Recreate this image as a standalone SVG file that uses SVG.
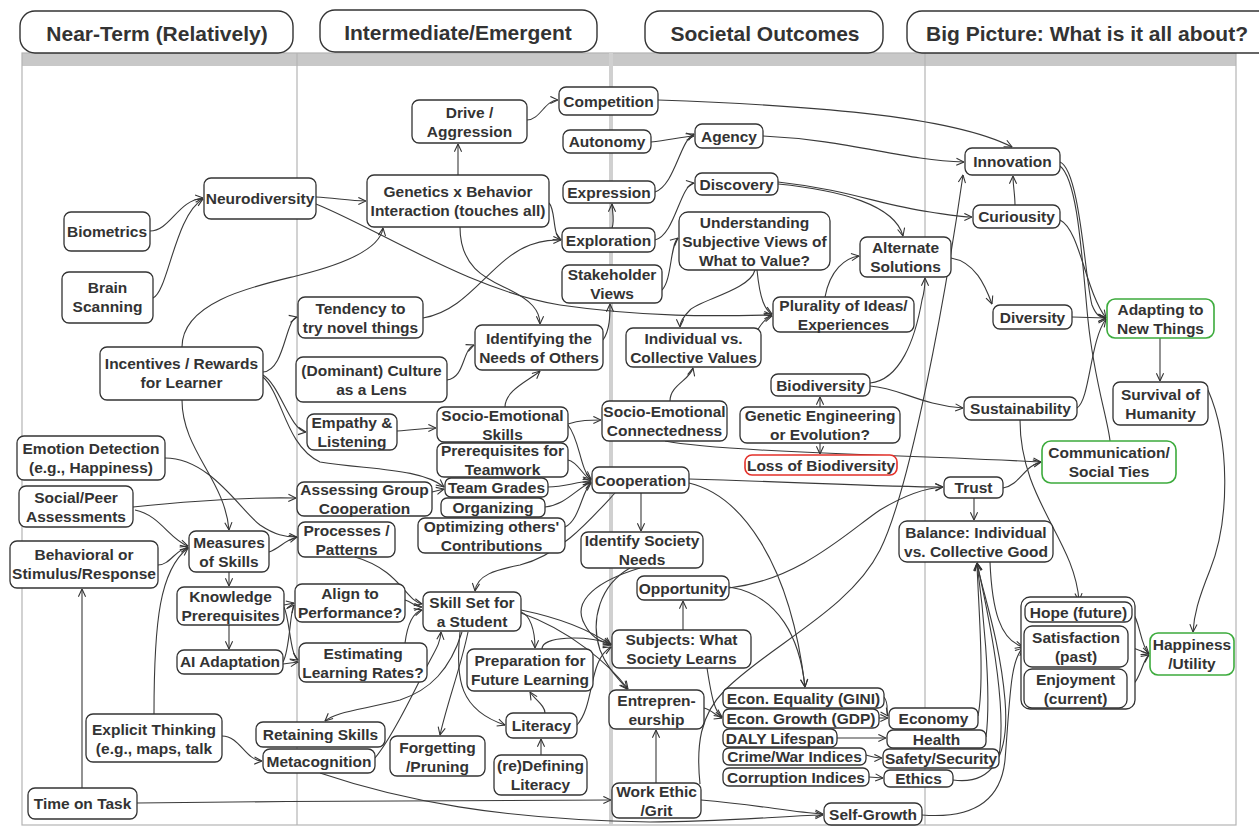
<svg xmlns="http://www.w3.org/2000/svg" width="1259" height="827" viewBox="0 0 1259 827">
<defs>
  <marker id="a" viewBox="0 0 10 10" refX="9.5" refY="5" markerWidth="9" markerHeight="9" markerUnits="userSpaceOnUse" orient="auto">
    <path d="M1,1 L9.5,5 L1,9" fill="none" stroke="#333" stroke-width="1.2"/>
  </marker>
  <style>
    .n rect{fill:#fff;stroke:#333;stroke-width:1.3}
    .n.g rect{stroke:#3cab3c;stroke-width:1.6}
    .n.r rect{stroke:#e4302a;stroke-width:1.6}
    text{font-family:"Liberation Sans",Arial,sans-serif;font-weight:bold;font-size:15.5px;fill:#333;text-anchor:middle}
    .hd rect{fill:#fff;stroke:#333;stroke-width:1.4}
    .hd text{font-size:21px}
    .e path{fill:none;stroke:#3a3a3a;stroke-width:1.1;marker-end:url(#a)}
    .e path.nm{marker-end:none}
    .lane{fill:none;stroke:#b4b4b4;stroke-width:1.2}
  </style>
</defs>
<rect width="1259" height="827" fill="#fff"/>

<!-- swimlanes -->
<g id="lanes">
  <rect x="22" y="53" width="1214" height="13" fill="#c8c8c8"/>
  <rect class="lane" x="22" y="53" width="1214" height="772"/>
  <line class="lane" x1="297" y1="53" x2="297" y2="825"/>
  <line x1="611" y1="53" x2="611" y2="825" stroke="#d0d0d0" stroke-width="4"/>
  <line class="lane" x1="925" y1="53" x2="925" y2="825"/>
</g>

<!-- column headers -->
<g id="hdr-near" class="hd"><rect x="20" y="11" width="273" height="42" rx="15"/><text x="157" y="41">Near-Term (Relatively)</text></g>
<g id="hdr-intermediate" class="hd"><rect x="320" y="10" width="277" height="42" rx="15"/><text x="458" y="40">Intermediate/Emergent</text></g>
<g id="hdr-societal" class="hd"><rect x="645" y="11" width="238" height="42" rx="15"/><text x="765" y="41">Societal Outcomes</text></g>
<g id="hdr-big" class="hd"><rect x="907" y="11" width="370" height="42" rx="15"/><text x="1087" y="41">Big Picture: What is it all about?</text></g>

<!-- connectors -->
<g id="edges" class="e">
  <path d="M150,231 C170,231 178,200 203,198"/>
  <path d="M153,298 C168,292 175,215 203,199"/>
  <path d="M316,197 C335,198 350,201 366,201"/>
  <path d="M316,204 C380,230 470,290 560,305 C650,318 720,316 772,315"/>
  <path d="M182,347 C182,300 260,285 300,275 C340,265 380,250 383,228"/>
  <path d="M263,372 C285,370 285,320 297,317"/>
  <path d="M263,375 C280,385 290,430 306,432"/>
  <path d="M263,377 C283,395 285,445 320,462 C370,470 420,468 444,487"/>
  <path d="M182,400 C182,450 225,480 229,530"/>
  <path d="M165,458 C210,458 240,510 260,525 C275,535 285,537 297,537"/>
  <path d="M133,507 C200,500 250,497 296,498"/>
  <path d="M135,510 C160,515 170,540 188,546"/>
  <path d="M158,565 C170,565 175,550 188,547"/>
  <path d="M154,714 C154,620 160,570 188,548"/>
  <path d="M269,552 C280,548 285,540 297,537"/>
  <path d="M229,572 L229,586"/>
  <path d="M229,625 L229,649"/>
  <path d="M284,605 L294,603"/>
  <path d="M284,607 C290,620 290,655 298,660"/>
  <path d="M283,662 C290,650 290,610 294,605"/>
  <path d="M283,664 L298,662"/>
  <path d="M82,788 L82,589"/>
  <path d="M137,803 C300,801 500,800 611,800"/>
  <path d="M222,736 C240,736 245,760 262,761"/>
  <path d="M320,773 C400,800 500,820 650,822 C720,822 780,816 823,815"/>
  <path d="M375,758 C390,740 410,700 425,670 C435,650 440,645 441,632"/>
  <path d="M462,632 C450,670 430,690 400,700 C360,710 335,712 325,721"/>
  <path d="M468,632 C460,670 448,700 440,735"/>
  <path d="M460,632 C455,680 460,710 505,725"/>
  <path d="M521,612 C530,615 535,630 535,648"/>
  <path d="M521,610 C560,618 590,630 611,645"/>
  <path d="M521,613 C570,630 610,665 628,689"/>
  <path d="M545,713 C545,705 535,700 530,692"/>
  <path d="M541,755 L541,739"/>
  <path d="M577,725 C595,705 588,660 611,647"/>
  <path d="M542,649 C542,636 585,635 611,644"/>
  <path d="M355,557 C400,570 405,600 422,604"/>
  <path d="M405,600 C412,602 415,607 422,607"/>
  <path d="M405,643 C408,620 415,612 422,610"/>
  <path d="M568,425 C580,440 580,470 591,479"/>
  <path d="M568,460 C578,462 582,475 591,480"/>
  <path d="M548,487 C565,487 575,482 591,481"/>
  <path d="M545,507 C565,505 575,490 591,482"/>
  <path d="M565,527 C580,520 582,490 591,483"/>
  <path d="M432,492 L444,489"/>
  <path d="M615,493 C590,520 560,555 520,565 C495,570 477,575 475,591"/>
  <path d="M641,493 L641,531"/>
  <path d="M689,479 C800,482 880,487 943,487"/>
  <path d="M689,483 C740,495 790,560 805,687"/>
  <path d="M729,587 C780,595 800,640 805,687"/>
  <path d="M729,588 C800,580 850,530 880,510 C905,495 925,488 943,487"/>
  <path d="M683,630 L683,601"/>
  <path d="M640,568 C600,580 570,600 585,625 C590,635 600,642 611,645"/>
  <path d="M630,568 C600,585 590,620 600,650 C608,670 620,680 627,689"/>
  <path d="M707,668 C712,700 715,712 722,717"/>
  <path d="M704,708 C712,710 716,716 722,718"/>
  <path d="M656,783 L656,730"/>
  <path d="M701,800 C760,805 790,812 823,814"/>
  <path d="M700,784 C696,745 700,715 725,690 C770,645 850,610 880,550 C910,490 945,300 963,175"/>
  <path d="M884,697 C890,705 885,712 888,716"/>
  <path d="M879,718 L888,718"/>
  <path d="M837,738 L886,738"/>
  <path d="M866,755 C872,757 876,758 882,758"/>
  <path d="M869,777 L883,778"/>
  <path d="M978,716 C985,680 978,600 977,563"/>
  <path d="M986,737 C992,690 982,600 977,563"/>
  <path d="M999,756 C1008,700 985,600 977,563"/>
  <path d="M953,780 C990,785 1010,760 1005,700 C1000,640 982,590 977,563"/>
  <path d="M990,562 C992,610 1000,640 1023,647"/>
  <path d="M922,815 C960,818 1000,810 1005,760 C1010,700 1010,660 1023,648"/>
  <path d="M1020,420 C1020,500 1075,540 1079,601"/>
  <path d="M1132,612 C1140,620 1140,645 1149,654"/>
  <path d="M1128,646 L1149,654"/>
  <path d="M1127,688 C1140,685 1142,660 1149,655"/>
  <path d="M1208,390 C1230,440 1230,520 1210,570 C1198,600 1194,615 1193,632"/>
  <path d="M1160,338 L1160,381"/>
  <path d="M1072,317 L1106,318"/>
  <path d="M1060,162 C1080,170 1085,280 1092,305 C1096,315 1100,318 1106,318"/>
  <path d="M1060,220 C1080,230 1085,290 1106,318"/>
  <path d="M1077,408 C1090,400 1090,340 1106,319"/>
  <path class="nm" d="M1060,166 C1078,180 1082,260 1088,320 C1094,380 1108,420 1110,441"/>
  <path d="M951,258 C975,262 985,285 992,304"/>
  <path d="M1015,205 C1015,195 1013,185 1013,176"/>
  <path d="M658,100 C800,105 950,115 1012,147"/>
  <path d="M763,136 C850,140 900,160 964,162"/>
  <path d="M778,182 C850,190 880,205 930,212 C950,215 960,217 972,217"/>
  <path d="M778,184 C840,190 895,205 903,236"/>
  <path d="M651,142 C670,140 680,137 694,136"/>
  <path d="M655,192 C675,185 680,140 694,134"/>
  <path d="M527,120 C540,120 545,100 558,100"/>
  <path d="M458,175 L458,144"/>
  <path d="M549,203 C556,210 552,235 561,240"/>
  <path d="M460,227 C460,270 490,280 510,290 C530,300 540,310 540,324"/>
  <path d="M423,318 C470,310 490,260 530,245 C545,240 552,240 561,240"/>
  <path d="M612,228 C615,220 612,210 612,204"/>
  <path d="M655,240 C675,235 680,185 694,183"/>
  <path d="M662,290 C672,280 670,245 678,238"/>
  <path d="M603,340 C610,330 610,315 610,304"/>
  <path d="M447,380 C465,378 462,350 474,345"/>
  <path d="M505,407 C505,390 530,380 540,371"/>
  <path d="M397,431 C415,430 425,428 436,428"/>
  <path d="M568,424 C580,420 590,420 601,420"/>
  <path d="M670,401 C670,385 690,380 693,368"/>
  <path d="M665,441 C700,448 780,452 900,456 C960,458 1000,460 1041,462"/>
  <path d="M755,270 C750,290 700,300 690,310 C683,317 680,322 680,327"/>
  <path d="M757,270 C760,300 765,310 772,314"/>
  <path d="M755,335 C760,325 765,318 772,316"/>
  <path d="M825,297 C830,270 845,258 859,256"/>
  <path d="M870,383 C900,380 915,340 922,300 C925,290 925,282 925,278"/>
  <path d="M870,386 C900,388 920,405 963,408"/>
  <path d="M820,407 L820,397"/>
  <path d="M820,443 L820,454"/>
  <path d="M1003,488 C1020,485 1025,465 1041,462"/>
  <path d="M974,498 L974,520"/>
</g>

<!-- Near-Term nodes -->
<g id="n-biometrics" class="n"><rect x="64" y="212" width="86" height="39" rx="7"/><text x="107" y="237">Biometrics</text></g>
<g id="n-brain-scanning" class="n"><rect x="62" y="272" width="91" height="51" rx="7"/><text><tspan x="107.5" y="293">Brain</tspan><tspan x="107.5" y="312">Scanning</tspan></text></g>
<g id="n-neurodiversity" class="n"><rect x="204" y="178" width="112" height="41" rx="7"/><text x="260" y="204">Neurodiversity</text></g>
<g id="n-incentives" class="n"><rect x="100" y="347" width="163" height="53" rx="7"/><text><tspan x="181.5" y="369">Incentives / Rewards</tspan><tspan x="181.5" y="388">for Learner</tspan></text></g>
<g id="n-emotion" class="n"><rect x="17" y="436" width="148" height="44" rx="7"/><text><tspan x="91" y="454">Emotion Detection</tspan><tspan x="91" y="473">(e.g., Happiness)</tspan></text></g>
<g id="n-social-peer" class="n"><rect x="19" y="486" width="114" height="41" rx="7"/><text><tspan x="76" y="503">Social/Peer</tspan><tspan x="76" y="522">Assessments</tspan></text></g>
<g id="n-behavioral" class="n"><rect x="10" y="541" width="148" height="47" rx="7"/><text><tspan x="84" y="560">Behavioral or</tspan><tspan x="84" y="579">Stimulus/Response</tspan></text></g>
<g id="n-measures" class="n"><rect x="189" y="531" width="80" height="41" rx="7"/><text><tspan x="229" y="548">Measures</tspan><tspan x="229" y="567">of Skills</tspan></text></g>
<g id="n-knowledge" class="n"><rect x="177" y="587" width="107" height="38" rx="7"/><text><tspan x="230.5" y="602">Knowledge</tspan><tspan x="230.5" y="621">Prerequisites</tspan></text></g>
<g id="n-ai-adaptation" class="n"><rect x="177" y="650" width="106" height="24" rx="7"/><text x="230" y="667">AI Adaptation</text></g>
<g id="n-explicit" class="n"><rect x="86" y="714" width="136" height="48" rx="7"/><text><tspan x="154" y="735">Explicit Thinking</tspan><tspan x="154" y="754">(e.g., maps, talk</tspan></text></g>
<g id="n-time-on-task" class="n"><rect x="28" y="788" width="109" height="31" rx="7"/><text x="82.5" y="809">Time on Task</text></g>

<!-- Intermediate nodes -->
<g id="n-drive" class="n"><rect x="412" y="100" width="115" height="43" rx="7"/><text><tspan x="469.5" y="117.5">Drive /</tspan><tspan x="469.5" y="136.5">Aggression</tspan></text></g>
<g id="n-genetics" class="n"><rect x="367" y="175" width="182" height="52" rx="7"/><text><tspan x="458" y="197">Genetics x Behavior</tspan><tspan x="458" y="216">Interaction (touches all)</tspan></text></g>
<g id="n-tendency" class="n"><rect x="298" y="297" width="125" height="41" rx="7"/><text><tspan x="360.5" y="313.5">Tendency to</tspan><tspan x="360.5" y="332.5">try novel things</tspan></text></g>
<g id="n-culture" class="n"><rect x="296" y="357" width="151" height="45" rx="7"/><text><tspan x="371.5" y="375.5">(Dominant) Culture</tspan><tspan x="371.5" y="394.5">as a Lens</tspan></text></g>
<g id="n-identifying" class="n"><rect x="475" y="325" width="128" height="45" rx="7"/><text><tspan x="539" y="343.5">Identifying the</tspan><tspan x="539" y="362.5">Needs of Others</tspan></text></g>
<g id="n-empathy" class="n"><rect x="307" y="414" width="90" height="36" rx="7"/><text><tspan x="352" y="428">Empathy &amp;</tspan><tspan x="352" y="447">Listening</tspan></text></g>
<g id="n-se-skills" class="n"><rect x="437" y="407" width="131" height="35" rx="7"/><text><tspan x="502.5" y="420.5">Socio-Emotional</tspan><tspan x="502.5" y="439.5">Skills</tspan></text></g>
<g id="n-prereq-teamwork" class="n"><rect x="437" y="443" width="131" height="34" rx="7"/><text><tspan x="502.5" y="456">Prerequisites for</tspan><tspan x="502.5" y="475">Teamwork</tspan></text></g>
<g id="n-assessing" class="n"><rect x="297" y="482" width="135" height="34" rx="7"/><text><tspan x="364.5" y="495">Assessing Group</tspan><tspan x="364.5" y="514">Cooperation</tspan></text></g>
<g id="n-team-grades" class="n"><rect x="445" y="478" width="103" height="19" rx="6"/><text x="496.5" y="493">Team Grades</text></g>
<g id="n-organizing" class="n"><rect x="441" y="498" width="104" height="19" rx="6"/><text x="493" y="513">Organizing</text></g>
<g id="n-optimizing" class="n"><rect x="418" y="518" width="147" height="35" rx="7"/><text><tspan x="491.5" y="531.5">Optimizing others'</tspan><tspan x="491.5" y="550.5">Contributions</tspan></text></g>
<g id="n-processes" class="n"><rect x="298" y="522" width="97" height="35" rx="7"/><text><tspan x="346.5" y="535.5">Processes /</tspan><tspan x="346.5" y="554.5">Patterns</tspan></text></g>
<g id="n-align" class="n"><rect x="295" y="584" width="110" height="38" rx="7"/><text><tspan x="350" y="599">Align to</tspan><tspan x="350" y="618">Performance?</tspan></text></g>
<g id="n-estimating" class="n"><rect x="299" y="643" width="128" height="39" rx="7"/><text><tspan x="363" y="658.5">Estimating</tspan><tspan x="363" y="677.5">Learning Rates?</tspan></text></g>
<g id="n-skill-set" class="n"><rect x="423" y="592" width="98" height="39" rx="7"/><text><tspan x="472" y="607.5">Skill Set for</tspan><tspan x="472" y="626.5">a Student</tspan></text></g>
<g id="n-preparation" class="n"><rect x="467" y="649" width="126" height="42" rx="7"/><text><tspan x="530" y="666">Preparation for</tspan><tspan x="530" y="685">Future Learning</tspan></text></g>
<g id="n-literacy" class="n"><rect x="506" y="713" width="71" height="25" rx="7"/><text x="541.5" y="731">Literacy</text></g>
<g id="n-redefining" class="n"><rect x="494" y="755" width="93" height="40" rx="7"/><text><tspan x="540.5" y="771">(re)Defining</tspan><tspan x="540.5" y="790">Literacy</tspan></text></g>
<g id="n-forgetting" class="n"><rect x="390" y="736" width="95" height="40" rx="7"/><text><tspan x="437.5" y="752.5">Forgetting</tspan><tspan x="437.5" y="771.5">/Pruning</tspan></text></g>
<g id="n-retaining" class="n"><rect x="256" y="722" width="129" height="25" rx="7"/><text x="320.5" y="740">Retaining Skills</text></g>
<g id="n-metacognition" class="n"><rect x="263" y="749" width="112" height="24" rx="7"/><text x="319" y="766.5">Metacognition</text></g>

<!-- Societal outcome nodes -->
<g id="n-competition" class="n"><rect x="559" y="87" width="99" height="28" rx="7"/><text x="608.5" y="106.5">Competition</text></g>
<g id="n-autonomy" class="n"><rect x="563" y="130" width="88" height="23" rx="7"/><text x="607" y="147">Autonomy</text></g>
<g id="n-agency" class="n"><rect x="695" y="124" width="68" height="24" rx="7"/><text x="729" y="141.5">Agency</text></g>
<g id="n-expression" class="n"><rect x="563" y="181" width="92" height="22" rx="7"/><text x="609" y="197.5">Expression</text></g>
<g id="n-discovery" class="n"><rect x="695" y="173" width="83" height="22" rx="7"/><text x="736.5" y="189.5">Discovery</text></g>
<g id="n-exploration" class="n"><rect x="562" y="228" width="93" height="24" rx="7"/><text x="608.5" y="245.5">Exploration</text></g>
<g id="n-understanding" class="n"><rect x="679" y="212" width="151" height="58" rx="9"/><text><tspan x="754.5" y="228">Understanding</tspan><tspan x="754.5" y="247">Subjective Views of</tspan><tspan x="754.5" y="266">What to Value?</tspan></text></g>
<g id="n-stakeholder" class="n"><rect x="562" y="265" width="100" height="38" rx="7"/><text><tspan x="612" y="280">Stakeholder</tspan><tspan x="612" y="299">Views</tspan></text></g>
<g id="n-alternate" class="n"><rect x="860" y="237" width="91" height="40" rx="7"/><text><tspan x="905.5" y="253">Alternate</tspan><tspan x="905.5" y="272">Solutions</tspan></text></g>
<g id="n-plurality" class="n"><rect x="773" y="297" width="141" height="35" rx="7"/><text><tspan x="843.5" y="310.5">Plurality of Ideas/</tspan><tspan x="843.5" y="329.5">Experiences</tspan></text></g>
<g id="n-individual" class="n"><rect x="626" y="328" width="135" height="39" rx="7"/><text><tspan x="693.5" y="343.5">Individual vs.</tspan><tspan x="693.5" y="362.5">Collective Values</tspan></text></g>
<g id="n-biodiversity" class="n"><rect x="771" y="374" width="99" height="22" rx="7"/><text x="820.5" y="390.5">Biodiversity</text></g>
<g id="n-genetic-eng" class="n"><rect x="740" y="407" width="160" height="36" rx="7"/><text><tspan x="820" y="421">Genetic Engineering</tspan><tspan x="820" y="440">or Evolution?</tspan></text></g>
<g id="n-loss-biodiversity" class="n r"><rect x="745" y="455" width="152" height="20" rx="7"/><text x="821" y="470.5">Loss of Biodiversity</text></g>
<g id="n-se-connected" class="n"><rect x="602" y="401" width="125" height="40" rx="7"/><text><tspan x="664.5" y="417">Socio-Emotional</tspan><tspan x="664.5" y="436">Connectedness</tspan></text></g>
<g id="n-cooperation" class="n"><rect x="592" y="467" width="97" height="26" rx="7"/><text x="640.5" y="485.5">Cooperation</text></g>
<g id="n-identify-needs" class="n"><rect x="581" y="532" width="122" height="36" rx="7"/><text><tspan x="642" y="546">Identify Society</tspan><tspan x="642" y="565">Needs</tspan></text></g>
<g id="n-opportunity" class="n"><rect x="637" y="576" width="92" height="24" rx="7"/><text x="683" y="593.5">Opportunity</text></g>
<g id="n-subjects" class="n"><rect x="612" y="630" width="139" height="38" rx="7"/><text><tspan x="681.5" y="645">Subjects: What</tspan><tspan x="681.5" y="664">Society Learns</tspan></text></g>
<g id="n-entrepreneurship" class="n"><rect x="609" y="690" width="95" height="39" rx="7"/><text><tspan x="656.5" y="705.5">Entrepren-</tspan><tspan x="656.5" y="724.5">eurship</tspan></text></g>
<g id="n-work-ethic" class="n"><rect x="612" y="783" width="89" height="35" rx="7"/><text><tspan x="656.5" y="796.5">Work Ethic</tspan><tspan x="656.5" y="815.5">/Grit</tspan></text></g>
<g id="n-gini" class="n"><rect x="723" y="688" width="161" height="20" rx="6"/><text x="803.5" y="703.5">Econ. Equality (GINI)</text></g>
<g id="n-gdp" class="n"><rect x="723" y="709" width="156" height="19" rx="6"/><text x="801" y="724">Econ. Growth (GDP)</text></g>
<g id="n-daly" class="n"><rect x="723" y="729" width="114" height="18" rx="6"/><text x="780" y="743.5">DALY Lifespan</text></g>
<g id="n-crime" class="n"><rect x="723" y="748" width="143" height="17" rx="6"/><text x="794.5" y="762">Crime/War Indices</text></g>
<g id="n-corruption" class="n"><rect x="723" y="768" width="146" height="18" rx="6"/><text x="796" y="782.5">Corruption Indices</text></g>
<g id="n-economy" class="n"><rect x="889" y="708" width="89" height="21" rx="6"/><text x="933.5" y="724">Economy</text></g>
<g id="n-health" class="n"><rect x="887" y="730" width="99" height="18" rx="6"/><text x="936.5" y="744.5">Health</text></g>
<g id="n-safety" class="n"><rect x="883" y="749" width="116" height="19" rx="6"/><text x="941" y="764">Safety/Security</text></g>
<g id="n-ethics" class="n"><rect x="884" y="770" width="69" height="17" rx="6"/><text x="918.5" y="784">Ethics</text></g>
<g id="n-self-growth" class="n"><rect x="824" y="803" width="98" height="22" rx="7"/><text x="873" y="819.5">Self-Growth</text></g>

<!-- Big picture nodes -->
<g id="n-innovation" class="n"><rect x="965" y="148" width="95" height="27" rx="7"/><text x="1012.5" y="167">Innovation</text></g>
<g id="n-curiousity" class="n"><rect x="973" y="205" width="87" height="23" rx="7"/><text x="1016.5" y="222">Curiousity</text></g>
<g id="n-diversity" class="n"><rect x="993" y="305" width="79" height="24" rx="7"/><text x="1032.5" y="322.5">Diversity</text></g>
<g id="n-adapting" class="n g"><rect x="1107" y="299" width="107" height="39" rx="8"/><text><tspan x="1160.5" y="314.5">Adapting to</tspan><tspan x="1160.5" y="333.5">New Things</tspan></text></g>
<g id="n-survival" class="n"><rect x="1113" y="382" width="95" height="43" rx="7"/><text><tspan x="1160.5" y="399.5">Survival of</tspan><tspan x="1160.5" y="418.5">Humanity</tspan></text></g>
<g id="n-sustainability" class="n"><rect x="964" y="397" width="113" height="23" rx="7"/><text x="1020.5" y="414">Sustainability</text></g>
<g id="n-communication" class="n g"><rect x="1042" y="441" width="134" height="42" rx="9"/><text><tspan x="1109" y="458">Communication/</tspan><tspan x="1109" y="477">Social Ties</tspan></text></g>
<g id="n-trust" class="n"><rect x="944" y="477" width="59" height="21" rx="6"/><text x="973.5" y="493">Trust</text></g>
<g id="n-balance" class="n"><rect x="899" y="521" width="154" height="41" rx="8"/><text><tspan x="976" y="537.5">Balance: Individual</tspan><tspan x="976" y="556.5">vs. Collective Good</tspan></text></g>
<g id="n-wellbeing-group" class="n"><rect x="1021" y="597" width="114" height="112" rx="9"/></g>
<g id="n-hope" class="n"><rect x="1025" y="602" width="107" height="20" rx="7"/><text x="1078.5" y="617.5">Hope (future)</text></g>
<g id="n-satisfaction" class="n"><rect x="1024" y="626" width="104" height="41" rx="8"/><text><tspan x="1076" y="642.5">Satisfaction</tspan><tspan x="1076" y="661.5">(past)</tspan></text></g>
<g id="n-enjoyment" class="n"><rect x="1024" y="669" width="103" height="39" rx="8"/><text><tspan x="1075.5" y="684.5">Enjoyment</tspan><tspan x="1075.5" y="703.5">(current)</tspan></text></g>
<g id="n-happiness" class="n g"><rect x="1150" y="633" width="84" height="42" rx="8"/><text><tspan x="1192" y="650">Happiness</tspan><tspan x="1192" y="669">/Utility</tspan></text></g>
</svg>
